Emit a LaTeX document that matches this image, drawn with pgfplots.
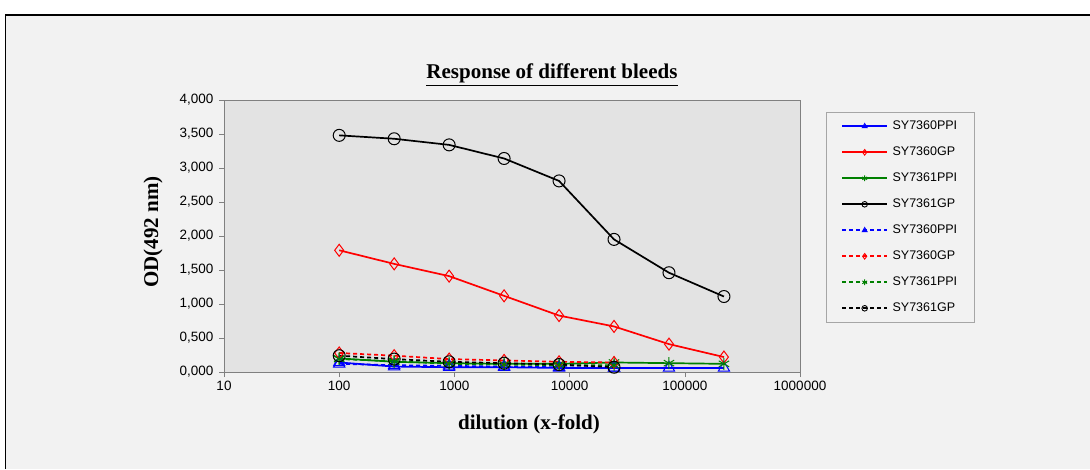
\documentclass[border=0pt]{standalone}
\usepackage{pgfplots}
\pgfplotsset{compat=1.18}
\usepackage{fontspec}
\setmainfont{Liberation Serif}
\setsansfont{Liberation Sans}

\definecolor{pagebg}{HTML}{F2F2F2}
\definecolor{plotbg}{HTML}{E3E3E3}
\definecolor{frame}{HTML}{808080}
\definecolor{sblue}{HTML}{0000FF}
\definecolor{sred}{HTML}{FF0000}
\definecolor{sgreen}{HTML}{008000}

\begin{document}
\begin{tikzpicture}
\useasboundingbox (0pt,0pt) rectangle (1090pt,469pt);
\fill[white] (0pt,0pt) rectangle (1090pt,469pt);
\fill[pagebg] (5.5pt,0pt) rectangle (1090pt,454pt);
\draw[black, line width=1pt] (5.5pt,0pt) -- (5.5pt,454pt);
\draw[black, line width=2.2pt] (5pt,454pt) -- (1090pt,454pt);

\begin{axis}[
  at={(224pt,97pt)}, anchor=south west,
  scale only axis, width=576pt, height=272pt,
  xmode=log, log basis x=10,
  xmin=10, xmax=1000000, ymin=0, ymax=4,
  xtick={10,100,1000,10000,100000,1000000},
  xticklabels={10,100,1000,10000,100000,1000000},
  ytick={0,0.5,...,4},
  minor tick num=0, minor xtick={},
  yticklabel style={xshift=-2pt, /pgf/number format/fixed, /pgf/number format/fixed zerofill, /pgf/number format/precision=3, /pgf/number format/use comma, /pgf/number format/assume math mode=true},
  tick label style={font=\sffamily\fontsize{13.5}{16}\selectfont, black},
  xticklabel style={yshift=-1pt},
  tick align=outside, tick pos=left,
  major tick length=5pt,
  tick style={frame, line width=0.6pt},
  axis line style={frame, line width=0.8pt},
  axis background/.style={fill=plotbg},
  clip=false,
  legend style={
    at={(1.0451,0.9559)}, anchor=north west,
    draw=frame!70, fill=pagebg, line width=0.6pt,
    font=\sffamily\fontsize{12.5}{15}\selectfont,
    inner xsep=15pt, inner ysep=8.5pt,
    row sep=15pt, column sep=2.5pt,
    nodes={inner ysep=0pt, text height=9pt, text depth=2pt},
  },
  legend cell align=left,
  legend image code/.code={%
    \draw[mark repeat=2, mark phase=2, #1, line width=1.8pt, mark size=2.8pt, mark options={solid, line width=0.9pt}]
      plot coordinates {(0pt,0pt) (22.5pt,0pt) (45pt,0pt)};},
  every axis plot/.append style={line width=1.7pt},
]
% solid series: eight threefold dilutions
\addplot[sblue, mark=triangle, mark size=6.5pt, mark options={solid, line width=1pt}]
  coordinates {(100,0.14) (300,0.08) (900,0.07) (2700,0.07) (8100,0.06) (24300,0.06) (72900,0.06) (218700,0.06)};
\addlegendentry{SY7360PPI}
\addplot[sred, mark=diamond, mark size=6pt, mark options={solid, line width=1pt}]
  coordinates {(100,1.79) (300,1.59) (900,1.41) (2700,1.12) (8100,0.83) (24300,0.67) (72900,0.41) (218700,0.22)};
\addlegendentry{SY7360GP}
\addplot[sgreen, mark=asterisk, mark size=6pt, mark options={solid, line width=1pt}]
  coordinates {(100,0.20) (300,0.15) (900,0.13) (2700,0.12) (8100,0.12) (24300,0.14) (72900,0.13) (218700,0.12)};
\addlegendentry{SY7361PPI}
\addplot[black, mark=o, mark size=6pt, mark options={solid, line width=1pt}]
  coordinates {(100,3.48) (300,3.43) (900,3.34) (2700,3.14) (8100,2.81) (24300,1.95) (72900,1.46) (218700,1.11)};
\addlegendentry{SY7361GP}
% dashed series: six dilutions
\addplot[sblue, dash pattern=on 4pt off 3pt, mark=triangle, mark size=6.5pt, mark options={solid, line width=1pt}]
  coordinates {(100,0.12) (300,0.10) (900,0.09) (2700,0.08) (8100,0.07) (24300,0.06)};
\addlegendentry{SY7360PPI}
\addplot[sred, dash pattern=on 4pt off 3pt, mark=diamond, mark size=6pt, mark options={solid, line width=1pt}]
  coordinates {(100,0.28) (300,0.24) (900,0.19) (2700,0.17) (8100,0.15) (24300,0.14)};
\addlegendentry{SY7360GP}
\addplot[sgreen, dash pattern=on 4pt off 3pt, mark=asterisk, mark size=6pt, mark options={solid, line width=1pt}]
  coordinates {(100,0.19) (300,0.16) (900,0.12) (2700,0.11) (8100,0.10) (24300,0.10)};
\addlegendentry{SY7361PPI}
\addplot[black, dash pattern=on 4pt off 3pt, mark=o, mark size=6pt, mark options={solid, line width=1pt}]
  coordinates {(100,0.24) (300,0.19) (900,0.15) (2700,0.13) (8100,0.11) (24300,0.07)};
\addlegendentry{SY7361GP}
\end{axis}

\node[anchor=base, font=\bfseries\fontsize{21}{24}\selectfont, inner sep=0pt]
  at (552pt,390pt) {\underline{Response of different bleeds}};
\node[anchor=base, font=\bfseries\fontsize{21}{24}\selectfont, inner sep=0pt]
  at (529pt,40pt) {dilution (x-fold)};
\node[anchor=base, rotate=90, font=\bfseries\fontsize{21}{24}\selectfont, inner sep=0pt]
  at (158pt,237pt) {OD(492 nm)};
\end{tikzpicture}
\end{document}
